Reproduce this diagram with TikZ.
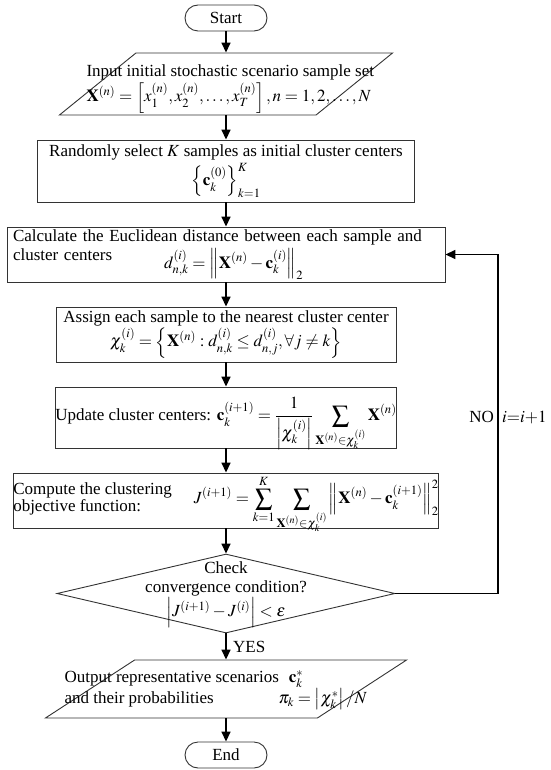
\documentclass[tikz,border=0pt]{standalone}
\usepackage{amsmath}
\usepackage{mathptmx}
\usepackage{fontspec}
\setmainfont{Liberation Serif}
\usepackage{tikz}
\usetikzlibrary{positioning, shapes.geometric, arrows.meta}

\begin{document}
\begin{tikzpicture}[x=1pt, y=-1pt,
          every node/.style={font=\fontsize{17}{19}\selectfont},
          term/.style={rectangle, rounded corners=13pt, draw=black!80, line width=0.9pt, minimum width=82pt, minimum height=26pt, inner sep=0pt},
          io/.style={trapezium, trapezium left angle=67, trapezium right angle=113, trapezium stretches=true, draw=black!80, line width=0.9pt, inner sep=1pt},
          box/.style={rectangle, draw=black!80, line width=0.9pt, inner sep=0pt},
          decision/.style={diamond, draw=black!80, line width=0.9pt, inner sep=1pt},
          arrow/.style={-{Triangle[length=10pt, width=9pt]}, line width=1.6pt}]
          \useasboundingbox (0,0) rectangle (550,770);

          \node[term] (start) at (226,18) {Start};
          \node[io, minimum width=333pt, minimum height=62pt] (input) at (226,84) {};
          \node[align=left, anchor=west] (inputtxt) at (83,89) {Input initial stochastic scenario sample set\\[1pt]
            $\mathbf{X}^{(n)}=\left[x_1^{(n)},x_2^{(n)},\ldots,x_T^{(n)}\right],n=1,2,\ldots,N$};
          \node[box, minimum width=377pt, minimum height=62pt, align=center] (random) at (226,171) {Randomly select $K$ samples as initial cluster centers\\[2pt]
            $\left\{\mathbf{c}_k^{(0)}\right\}_{k=1}^{K}$};
          \node[box, minimum width=438pt, minimum height=55pt, text width=426pt, align=left] (calc) at (226,254.5) {Calculate the Euclidean distance between each sample and\\
            cluster centers\hspace{52pt}\raisebox{-8pt}{$d_{n,k}^{(i)}=\left\|\mathbf{X}^{(n)}-\mathbf{c}_k^{(i)}\right\|_2$}};
          \node[box, minimum width=340pt, minimum height=55pt, align=center] (assign) at (226,334.5) {Assign each sample to the nearest cluster center\\
            $\chi_k^{(i)}=\left\{\mathbf{X}^{(n)}:d_{n,k}^{(i)}\le d_{n,j}^{(i)},\forall j\ne k\right\}$};
          \node[box, minimum width=340pt, minimum height=61pt, text height=20pt, text depth=14pt] (update) at (226,417.5) {Update cluster centers: $\displaystyle\mathbf{c}_k^{(i+1)}=\frac{1}{\left|\chi_k^{(i)}\right|}\sum_{\mathbf{X}^{(n)}\in\chi_k^{(i)}}\mathbf{X}^{(n)}$};
          \node[box, minimum width=402pt, minimum height=55pt, text height=18pt, text depth=12pt] (compute) at (226,500.5) {\renewcommand{\arraystretch}{0.9}\begin{tabular}{@{}l@{}}Compute the clustering\\ objective function:\end{tabular}\hspace{22pt}$\displaystyle J^{(i+1)}=\sum_{k=1}^{K}\sum_{\mathbf{X}^{(n)}\in\chi_k^{(i)}}\left\|\mathbf{X}^{(n)}-\mathbf{c}_k^{(i+1)}\right\|_2^2$};
          \node[decision, minimum width=338pt, minimum height=79pt] (check) at (226,593.5) {};
          \node[align=center, inner sep=0pt] (checktxt) at (226,595) {Check\\ convergence condition?\\
            $\left|J^{(i+1)}-J^{(i)}\right|<\varepsilon$};
          \node[io, trapezium left angle=64, trapezium right angle=116, minimum width=361pt, minimum height=58pt] (output) at (226,689) {};
          \node[align=left, anchor=west] (outputtxt) at (61,690) {Output representative scenarios\hspace{10pt}$\mathbf{c}_k^*$\\
            \makebox[214pt][l]{and their probabilities}$\pi_k=\left|\chi_k^*\right|/N$};
          \node[term] (end) at (226,755) {End};
          \coordinate (loopcorner) at (498,593.5);

          \draw[arrow] (start) -- (input);
          \draw[arrow] (input) -- (random);
          \draw[arrow] (random) -- (calc);
          \draw[arrow] (calc) -- (assign);
          \draw[arrow] (assign) -- (update);
          \draw[arrow] (update) -- (compute);
          \draw[arrow] (compute) -- (check);
          \draw[arrow] (check) -- node[right, xshift=3pt] {YES} (output);
          \draw[arrow] (output) -- (end);
          \draw[arrow] (check.east) -- (loopcorner) |- (calc.east)
            node[pos=0.26, left] {NO} node[pos=0.26, right] {$i{=}i{+}1$};
        \end{tikzpicture}
\end{document}
